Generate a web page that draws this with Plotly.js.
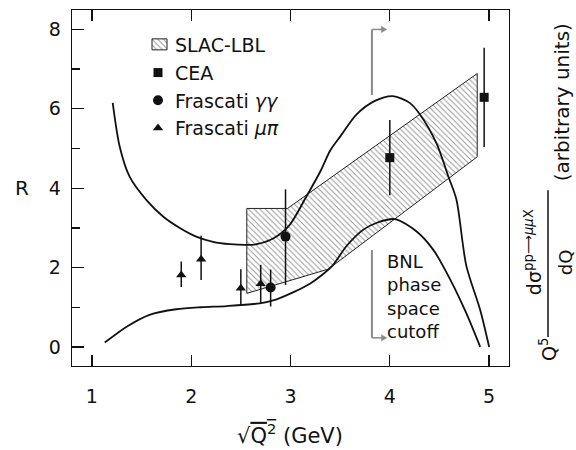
<!DOCTYPE html>
<html>
<head>
<meta charset="utf-8">
<script src="https://cdn.plot.ly/plotly-3.0.1.min.js"></script>
<style>
html,body{margin:0;padding:0;background:#fff;}
#chart{width:576px;height:450px;}
</style>
</head>
<body>
<div id="chart"></div>
<script>
// SLAC-LBL band (polygon outline)
const slacX = [2.56, 2.56, 2.97, 4.88, 4.88, 3.38, 2.56];
const slacY = [1.35, 3.49, 3.49, 6.89, 4.79, 1.96, 1.35];

// Upper theory curve (R)
const curveAX = [1.21,1.28,1.38,1.55,1.72,1.89,2.05,2.22,2.39,2.56,2.66,2.83,2.99,3.16,3.30,3.40,3.50,3.67,3.85,4.03,4.20,4.30,4.47,4.59,4.67,4.77,4.91,5.00];
const curveAY = [6.15,5.05,4.29,3.70,3.28,2.99,2.78,2.65,2.59,2.57,2.59,2.74,3.07,3.79,4.42,4.95,5.30,5.87,6.20,6.32,6.15,5.87,5.13,4.29,3.72,2.05,0.93,0.00];

// Lower curve (BNL dσ/dQ, arbitrary units)
const curveBX = [1.13,1.35,1.58,1.85,2.10,2.36,2.69,2.86,3.03,3.20,3.30,3.43,3.56,3.73,3.87,4.05,4.27,4.44,4.61,4.77,4.91];
const curveBY = [0.11,0.51,0.81,0.95,1.00,1.03,1.10,1.20,1.38,1.60,1.78,2.07,2.53,2.95,3.13,3.22,2.91,2.44,1.69,0.85,0.00];

// CEA
const ceaX = [4.00, 4.95];
const ceaY = [4.77, 6.29];
const ceaErr = [0.95, 1.25];

// Frascati γγ
const fggX = [2.80, 2.95];
const fggY = [1.50, 2.78];
const fggErrPlus = [0.45, 1.19];
const fggErrMinus = [0.48, 1.22];

// Frascati μπ
const fmpX = [1.90, 2.10, 2.50, 2.70];
const fmpY = [1.81, 2.21, 1.48, 1.59];
const fmpErrPlus = [0.34, 0.59, 0.48, 0.48];
const fmpErrMinus = [0.30, 0.52, 0.42, 0.48];

const xTicks = [1, 2, 3, 4, 5];
const yTicks = [0, 2, 4, 6, 8];

const FONT = 'DejaVu Sans, Liberation Sans, sans-serif';
const INK = '#111';

const traces = [
  {
    x: slacX, y: slacY, type: 'scatter', mode: 'lines', fill: 'toself',
    name: 'SLAC-LBL', legendrank: 1,
    line: {color: '#222', width: 1},
    fillcolor: 'white',
    fillpattern: {shape: '\\', size: 4, solidity: 0.25, fgcolor: '#999', bgcolor: 'white'},
    hoverinfo: 'skip'
  },
  {
    x: curveAX, y: curveAY, type: 'scatter', mode: 'lines', showlegend: false,
    line: {color: INK, width: 1.8, shape: 'spline', smoothing: 0.8}
  },
  {
    x: curveBX, y: curveBY, type: 'scatter', mode: 'lines', showlegend: false,
    line: {color: INK, width: 1.8, shape: 'spline', smoothing: 0.8}
  },
  {
    x: ceaX, y: ceaY, type: 'scatter', mode: 'markers', name: 'CEA', legendrank: 2,
    marker: {symbol: 'square', size: 9, color: INK},
    error_y: {type: 'data', array: ceaErr, visible: true, width: 0, thickness: 1.5, color: INK}
  },
  {
    x: fggX, y: fggY, type: 'scatter', mode: 'markers', name: 'Frascati <i>γγ</i>', legendrank: 3,
    marker: {symbol: 'circle', size: 10, color: INK},
    error_y: {type: 'data', array: fggErrPlus, arrayminus: fggErrMinus, visible: true, width: 0, thickness: 1.5, color: INK}
  },
  {
    x: fmpX, y: fmpY, type: 'scatter', mode: 'markers', name: 'Frascati <i>μπ</i>', legendrank: 4,
    marker: {symbol: 'triangle-up', size: 9, color: INK},
    error_y: {type: 'data', array: fmpErrPlus, arrayminus: fmpErrMinus, visible: true, width: 0, thickness: 1.5, color: INK}
  }
];

const gray = '#8a8a8a';
const px = v => (v - 72) / 437;      // page x -> paper x
const py = v => (366 - v) / 356.5;   // page y -> paper y

const layout = {
  width: 576, height: 450,
  margin: {l: 72, r: 67, t: 10, b: 84},
  paper_bgcolor: 'white', plot_bgcolor: 'white',
  font: {family: FONT, size: 19, color: INK},
  showlegend: true,
  legend: {
    x: px(135), xanchor: 'left', y: 0.955, yanchor: 'top',
    bgcolor: 'rgba(0,0,0,0)', borderwidth: 0,
    font: {family: FONT, size: 19, color: INK},
    itemwidth: 30, tracegroupgap: 0
  },
  xaxis: {
    range: [0.8, 5.2], tickvals: xTicks, ticktext: xTicks.map(String),
    ticks: 'inside', ticklen: 11, tickwidth: 1.3, tickcolor: INK,
    showline: true, linecolor: INK, linewidth: 1.3, mirror: 'ticks',
    showgrid: false, zeroline: false,
    tickfont: {family: FONT, size: 19, color: INK},
    ticklabelstandoff: 13
  },
  yaxis: {
    range: [-0.48, 8.49], tickvals: yTicks, ticktext: yTicks.map(String),
    ticks: 'inside', ticklen: 12, tickwidth: 1.3, tickcolor: INK,
    minor: {tickvals: [1, 3, 5, 7], ticks: 'inside', ticklen: 8, tickwidth: 1.3, tickcolor: INK},
    showline: true, linecolor: INK, linewidth: 1.3, mirror: true,
    showgrid: false, zeroline: false,
    tickfont: {family: FONT, size: 19, color: INK},
    ticklabelstandoff: 6
  },
  shapes: [
    // BNL phase-space cutoff brackets
    {type: 'line', xref: 'x', yref: 'y', x0: 3.82, x1: 3.82, y0: 2.44, y1: 0.23, line: {color: gray, width: 2}},
    {type: 'line', xref: 'x', yref: 'y', x0: 3.82, x1: 3.93, y0: 0.23, y1: 0.23, line: {color: gray, width: 1.5}},
    {type: 'path', xref: 'x', yref: 'y', path: 'M3.97,0.23 L3.915,0.31 L3.915,0.15 Z', fillcolor: gray, line: {color: gray, width: 0.5}},
    {type: 'line', xref: 'x', yref: 'y', x0: 3.82, x1: 3.82, y0: 6.35, y1: 8.0, line: {color: gray, width: 2}},
    {type: 'line', xref: 'x', yref: 'y', x0: 3.82, x1: 3.93, y0: 8.0, y1: 8.0, line: {color: gray, width: 1.5}},
    {type: 'path', xref: 'x', yref: 'y', path: 'M3.97,8.0 L3.915,8.08 L3.915,7.92 Z', fillcolor: gray, line: {color: gray, width: 0.5}},
    // fraction bar of the right-hand label
    {type: 'line', layer: 'above', xref: 'paper', yref: 'paper', x0: px(548), x1: px(548), y0: py(190), y1: py(337), line: {color: INK, width: 1.5}}
  ],
  annotations: [
    {xref: 'x', yref: 'y', x: 3.95, y: 2.48, xanchor: 'left', yanchor: 'top', align: 'left', showarrow: false,
     text: 'BNL<br>phase<br>space<br>cutoff', font: {family: FONT, size: 18, color: INK}},
    // axis titles
    {xref: 'paper', yref: 'paper', x: px(290), y: py(434), xanchor: 'center', yanchor: 'middle', showarrow: false,
     text: '√<span style="text-decoration:overline">Q<sup>2</sup></span> (GeV)', font: {family: FONT, size: 21, color: INK}},
    {xref: 'paper', yref: 'paper', x: px(22), y: py(188), xanchor: 'center', yanchor: 'middle', showarrow: false,
     text: 'R', font: {family: FONT, size: 20, color: INK}},
    // right label pieces
    {xref: 'paper', yref: 'paper', x: px(548), y: py(350), xanchor: 'center', yanchor: 'middle', showarrow: false, textangle: -90,
     text: 'Q<sup>5</sup>', font: {family: FONT, size: 19, color: INK}},
    {xref: 'paper', yref: 'paper', x: px(533), y: py(252), xanchor: 'center', yanchor: 'middle', showarrow: false, textangle: -90,
     text: 'dσ<sup>pp⟶<i>μμ</i>X</sup>', font: {family: FONT, size: 19, color: INK}},
    {xref: 'paper', yref: 'paper', x: px(565), y: py(262), xanchor: 'center', yanchor: 'middle', showarrow: false, textangle: -90,
     text: 'dQ', font: {family: FONT, size: 18, color: INK}},
    {xref: 'paper', yref: 'paper', x: px(562), y: py(102), xanchor: 'center', yanchor: 'middle', showarrow: false, textangle: -90,
     text: '(arbitrary units)', font: {family: FONT, size: 20, color: INK}}
  ]
};

Plotly.newPlot('chart', traces, layout, {staticPlot: true, displayModeBar: false}).then(gd => {
  // compact legend symbols like the original key
  const box = 'M17,-6h15v11h-15z';
  gd.querySelectorAll('.legend .legendfill path').forEach(p => { if (p.getAttribute('d')) p.setAttribute('d', box); });
  gd.querySelectorAll('.legend .legendlines path').forEach(p => {
    if (p.getAttribute('d')) { p.setAttribute('d', box); p.style.fill = 'none'; }
  });
  gd.querySelectorAll('.legend .legendpoints path').forEach(p => p.setAttribute('transform', 'translate(23,0)'));
});
</script>
</body>
</html>
